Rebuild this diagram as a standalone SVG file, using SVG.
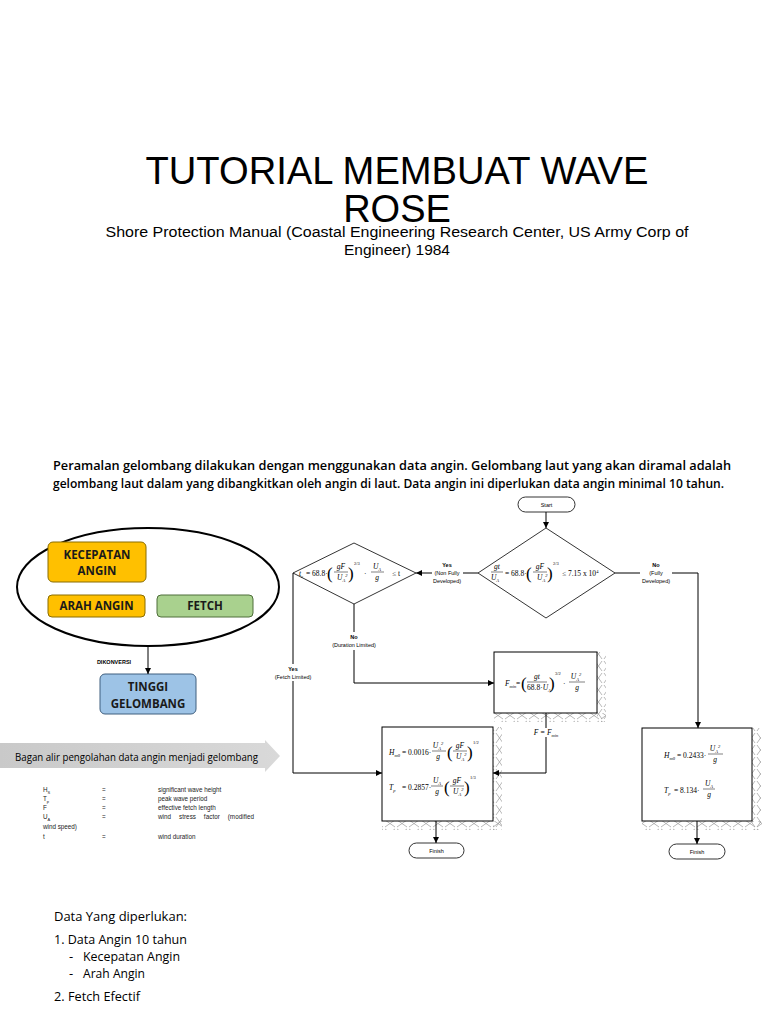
<svg xmlns="http://www.w3.org/2000/svg" width="768" height="1024" viewBox="0 0 768 1024">
<style>
.ln{stroke:#000;stroke-width:1;fill:none}
.m{font-family:"Liberation Serif","Times New Roman",serif;font-size:7.5px;fill:#000}
.mi{font-family:"Liberation Serif","Times New Roman",serif;font-size:7.5px;font-style:italic;fill:#000}
.sm{font-size:4.5px}
.par{font-family:"Liberation Serif","Times New Roman",serif;font-size:17px;fill:#000}
.lab{font-family:"Liberation Sans",Arial,sans-serif;font-size:5.5px;text-anchor:middle;fill:#000}
.labb{font-family:"Liberation Sans",Arial,sans-serif;font-size:5.5px;font-weight:bold;text-anchor:middle;fill:#000}
.cal{font-family:"Open Sans","Noto Sans",sans-serif;fill:#000}
.box{font-family:"Open Sans","Noto Sans",sans-serif;font-weight:bold;font-size:11.5px;text-anchor:middle;fill:#1a1a1a}
.leg{font-family:"Liberation Sans",Arial,sans-serif;font-size:6.3px;fill:#222}
</style>
<defs>
<marker id="arr" viewBox="0 0 10 10" refX="10" refY="5" markerWidth="7" markerHeight="6" markerUnits="userSpaceOnUse" orient="auto">
<path d="M0,0 L10,5 L0,10 z" fill="#000"/>
</marker>
<pattern id="hb" x="0" y="0" width="12" height="9" patternUnits="userSpaceOnUse">
<path d="M1,1 L11,8 M11,1 L1,8" stroke="#999" stroke-width="0.7" fill="none"/>
</pattern>
<pattern id="hr" x="0" y="0" width="9" height="12" patternUnits="userSpaceOnUse">
<path d="M1,1 L8,11 M8,1 L1,11" stroke="#999" stroke-width="0.7" fill="none"/>
</pattern>
<linearGradient id="bg" x1="0" y1="0" x2="1" y2="0">
<stop offset="0" stop-color="#c9c9c9"/>
<stop offset="1" stop-color="#d9d9d9"/>
</linearGradient>
</defs>
<rect width="768" height="1024" fill="#fff"/>

<!-- Title -->
<g id="title">
<text x="397" y="184" font-family="Liberation Sans,Arial,sans-serif" font-size="38" text-anchor="middle" textLength="503" lengthAdjust="spacingAndGlyphs">TUTORIAL MEMBUAT WAVE</text>
<text x="397" y="222" font-family="Liberation Sans,Arial,sans-serif" font-size="38" text-anchor="middle">ROSE</text>
<text x="397" y="237" font-family="Liberation Sans,Arial,sans-serif" font-size="15.5" text-anchor="middle" textLength="583" lengthAdjust="spacingAndGlyphs">Shore Protection Manual (Coastal Engineering Research Center, US Army Corp of</text>
<text x="397" y="255" font-family="Liberation Sans,Arial,sans-serif" font-size="15.5" text-anchor="middle">Engineer) 1984</text>
</g>

<g id="intro">
<text x="53" y="470" class="cal" font-size="12.5" font-weight="600" textLength="678" lengthAdjust="spacingAndGlyphs">Peramalan gelombang dilakukan dengan menggunakan data angin. Gelombang laut yang akan diramal adalah</text>
<text x="53" y="488" class="cal" font-size="12.5" font-weight="600" textLength="671" lengthAdjust="spacingAndGlyphs">gelombang laut dalam yang dibangkitkan oleh angin di laut. Data angin ini diperlukan data angin minimal 10 tahun.</text>
</g>

<!-- Left concept diagram -->
<g id="ellipse-group">
<ellipse cx="148" cy="587" rx="131" ry="59" fill="#fff" stroke="#000" stroke-width="2"/>
</g>
<g id="kecepatan">
<rect x="48" y="542" width="98" height="40" rx="5" fill="#FFC000" stroke="#8a6d00" stroke-width="1"/>
<text x="97" y="559" class="box">KECEPATAN</text>
<text x="97" y="575" class="box">ANGIN</text>
</g>
<g id="arah">
<rect x="48" y="595" width="97" height="22" rx="4" fill="#FFC000" stroke="#8a6d00" stroke-width="1"/>
<text x="96.5" y="610" class="box">ARAH ANGIN</text>
</g>
<g id="fetch">
<rect x="157" y="595" width="96" height="22" rx="4" fill="#A9D18E" stroke="#4e6e3a" stroke-width="1"/>
<text x="205" y="610" class="box">FETCH</text>
</g>
<g id="tinggi">
<rect x="100" y="674" width="96" height="40" rx="5" fill="#9DC3E6" stroke="#3f5f7f" stroke-width="1"/>
<text x="148" y="691" class="box" font-size="12.5">TINGGI</text>
<text x="148" y="708" class="box" font-size="12.5">GELOMBANG</text>
</g>
<g id="left-connector">
<path d="M148,646 V674" class="ln" marker-end="url(#arr)"/>
<text x="114" y="664" class="labb" font-size="6">DIKONVERSI</text>
</g>

<!-- Banner -->
<g id="banner">
<path d="M0,743 H265 V740 L280,756 L265,772 V768 H0 z" fill="url(#bg)"/>
<text x="15" y="761" class="cal" font-size="10.5" textLength="243" lengthAdjust="spacingAndGlyphs">Bagan alir pengolahan data angin menjadi gelombang</text>
</g>

<!-- Legend -->
<g id="legend">
<text x="43" y="792" class="leg">H<tspan font-size="4" dy="1.5">S</tspan></text>
<text x="102" y="792" class="leg">=</text>
<text x="158" y="792" class="leg">significant wave height</text>
<text x="43" y="801" class="leg">T<tspan font-size="4" dy="1.5">p</tspan></text>
<text x="102" y="801" class="leg">=</text>
<text x="158" y="801" class="leg">peak wave period</text>
<text x="43" y="810" class="leg">F</text>
<text x="102" y="810" class="leg">=</text>
<text x="158" y="810" class="leg">effective fetch length</text>
<text x="43" y="819" class="leg">U<tspan font-size="4" dy="1.5">A</tspan></text>
<text x="102" y="819" class="leg">=</text>
<text x="158" y="819" class="leg" textLength="96" word-spacing="6">wind stress factor (modified</text>
<text x="43" y="829" class="leg">wind speed)</text>
<text x="43" y="839" class="leg">t</text>
<text x="102" y="839" class="leg">=</text>
<text x="158" y="839" class="leg">wind duration</text>
</g>

<!-- Flowchart nodes -->
<g id="start">
<rect x="518" y="497" width="57" height="15" rx="7.5" fill="#fff" stroke="#000" stroke-width="0.8"/>
<text x="546.5" y="506.5" class="lab">Start</text>
</g>

<g id="diamond-right">
<path d="M546,528 L615,573 L546,618 L478,573 z" fill="#fff" stroke="#000" stroke-width="0.8"/>
<text x="497" y="569" class="mi" text-anchor="middle">gt</text>
<line x1="491" y1="572" x2="503" y2="572" stroke="#000" stroke-width="0.5"/>
<text x="495" y="580" class="mi" text-anchor="middle">U<tspan class="sm" dy="1.5">A</tspan></text>
<text x="505" y="576" class="m" font-size="7">= 68.8·</text>
<text x="526" y="579" class="par">(</text>
<text x="540" y="569" class="mi" text-anchor="middle">gF</text>
<line x1="533" y1="572" x2="547" y2="572" stroke="#000" stroke-width="0.5"/>
<text x="537" y="580" class="mi">U<tspan class="sm" dy="1.5">A</tspan><tspan class="sm" dy="-5">2</tspan></text>
<text x="547" y="579" class="par">)</text>
<text x="553" y="565" class="m sm">2/3</text>
<text x="562" y="576" class="m">≤ 7.15 x 10<tspan class="sm" dy="-3">4</tspan></text>
</g>

<g id="diamond-left">
<path d="M354,543 L416,573 L354,604 L293,573 z" fill="#fff" stroke="#000" stroke-width="0.8"/>
<text x="299" y="576" class="mi">t<tspan class="sm" dy="1.5">c</tspan></text>
<text x="306" y="576" class="m" font-size="7">= 68.8·</text>
<text x="327" y="579" class="par">(</text>
<text x="341" y="569" class="mi" text-anchor="middle">gF</text>
<line x1="334" y1="572" x2="348" y2="572" stroke="#000" stroke-width="0.5"/>
<text x="337" y="580" class="mi">U<tspan class="sm" dy="1.5">A</tspan><tspan class="sm" dy="-5">2</tspan></text>
<text x="348" y="579" class="par">)</text>
<text x="354" y="565" class="m sm">2/3</text>
<text x="364" y="576" class="m">·</text>
<text x="377" y="569" class="mi" text-anchor="middle">U<tspan class="sm" dy="1.5">A</tspan></text>
<line x1="371" y1="572" x2="384" y2="572" stroke="#000" stroke-width="0.5"/>
<text x="377" y="580" class="mi" text-anchor="middle">g</text>
<text x="392" y="576" class="m">≤ t</text>
</g>

<g id="box-fmin">
<rect x="494" y="713" width="112" height="9" fill="url(#hb)"/>
<rect x="597" y="652" width="9" height="70" fill="url(#hr)"/>
<rect x="494" y="652" width="103" height="61" fill="#fff" stroke="#000" stroke-width="1"/>
<text x="505" y="686" class="mi">F<tspan class="sm" dy="1.5">min</tspan></text>
<text x="516" y="686" class="m">=</text>
<text x="521" y="689" class="par">(</text>
<text x="537" y="679" class="mi" text-anchor="middle">gt</text>
<line x1="527" y1="682" x2="547" y2="682" stroke="#000" stroke-width="0.5"/>
<text x="527" y="690" class="m" font-size="6.5">68.8·<tspan font-style="italic">U</tspan><tspan class="sm" dy="1.5" font-style="italic">A</tspan></text>
<text x="549" y="689" class="par">)</text>
<text x="555" y="675" class="m sm">3/2</text>
<text x="563" y="686" class="m">·</text>
<text x="576" y="679" class="mi" text-anchor="middle">U<tspan class="sm" dy="1.5">A</tspan><tspan class="sm" dy="-5">2</tspan></text>
<line x1="569" y1="682" x2="585" y2="682" stroke="#000" stroke-width="0.5"/>
<text x="577" y="690" class="mi" text-anchor="middle">g</text>
</g>

<g id="box-h-limited">
<rect x="382" y="821" width="120" height="9" fill="url(#hb)"/>
<rect x="493" y="727" width="9" height="103" fill="url(#hr)"/>
<rect x="382" y="727" width="111" height="94" fill="#fff" stroke="#000" stroke-width="1"/>
<text x="389" y="755" class="mi">H<tspan class="sm" dy="1.5">m0</tspan></text>
<text x="402" y="755" class="m">= 0.0016·</text>
<text x="438" y="748" class="mi" text-anchor="middle">U<tspan class="sm" dy="1.5">A</tspan><tspan class="sm" dy="-5">2</tspan></text>
<line x1="432" y1="751" x2="446" y2="751" stroke="#000" stroke-width="0.5"/>
<text x="438" y="759" class="mi" text-anchor="middle">g</text>
<text x="447" y="758" class="par">(</text>
<text x="460" y="748" class="mi" text-anchor="middle">gF</text>
<line x1="453" y1="751" x2="467" y2="751" stroke="#000" stroke-width="0.5"/>
<text x="456" y="759" class="mi">U<tspan class="sm" dy="1.5">A</tspan><tspan class="sm" dy="-5">2</tspan></text>
<text x="467" y="758" class="par">)</text>
<text x="473" y="744" class="m sm">1/2</text>
<text x="389" y="790" class="mi">T<tspan class="sm" dy="1.5">p</tspan></text>
<text x="402" y="790" class="m">= 0.2857·</text>
<text x="437" y="783" class="mi" text-anchor="middle">U<tspan class="sm" dy="1.5">A</tspan></text>
<line x1="431" y1="786" x2="443" y2="786" stroke="#000" stroke-width="0.5"/>
<text x="437" y="794" class="mi" text-anchor="middle">g</text>
<text x="444" y="793" class="par">(</text>
<text x="457" y="783" class="mi" text-anchor="middle">gF</text>
<line x1="450" y1="786" x2="464" y2="786" stroke="#000" stroke-width="0.5"/>
<text x="453" y="794" class="mi">U<tspan class="sm" dy="1.5">A</tspan><tspan class="sm" dy="-5">2</tspan></text>
<text x="464" y="793" class="par">)</text>
<text x="470" y="779" class="m sm">1/3</text>
</g>

<g id="box-fully">
<rect x="642" y="821" width="120" height="9" fill="url(#hb)"/>
<rect x="752" y="728" width="9" height="102" fill="url(#hr)"/>
<rect x="642" y="728" width="110" height="93" fill="#fff" stroke="#000" stroke-width="1"/>
<text x="664" y="758" class="mi">H<tspan class="sm" dy="1.5">m0</tspan></text>
<text x="677" y="758" class="m">= 0.2433·</text>
<text x="715" y="751" class="mi" text-anchor="middle">U<tspan class="sm" dy="1.5">A</tspan><tspan class="sm" dy="-5">2</tspan></text>
<line x1="708" y1="754" x2="723" y2="754" stroke="#000" stroke-width="0.5"/>
<text x="715" y="762" class="mi" text-anchor="middle">g</text>
<text x="664" y="793" class="mi">T<tspan class="sm" dy="1.5">p</tspan></text>
<text x="674" y="793" class="m">= 8.134·</text>
<text x="709" y="786" class="mi" text-anchor="middle">U<tspan class="sm" dy="1.5">A</tspan></text>
<line x1="703" y1="789" x2="715" y2="789" stroke="#000" stroke-width="0.5"/>
<text x="709" y="797" class="mi" text-anchor="middle">g</text>
</g>

<g id="finish-1">
<rect x="409" y="843" width="55" height="15" rx="7.5" fill="#fff" stroke="#000" stroke-width="0.8"/>
<text x="436.5" y="852.5" class="lab">Finish</text>
</g>
<g id="finish-2">
<rect x="669" y="844" width="56" height="15" rx="7.5" fill="#fff" stroke="#000" stroke-width="0.8"/>
<text x="697" y="853.5" class="lab">Finish</text>
</g>

<!-- Connectors -->
<g id="connectors">
<path d="M546,512 V528" class="ln" marker-end="url(#arr)"/>
<path d="M478,573 H463" class="ln"/>
<path d="M432,573 H416" class="ln" marker-end="url(#arr)"/>
<path d="M615,573 H640" class="ln"/>
<path d="M672,573 H698 V728" class="ln" marker-end="url(#arr)"/>
<path d="M354,604 V632" class="ln"/>
<path d="M354,650 V683 H494" class="ln" marker-end="url(#arr)"/>
<path d="M293,573 V664" class="ln"/>
<path d="M293,681 V773 H382" class="ln" marker-end="url(#arr)"/>
<path d="M546,713 V728" class="ln"/>
<path d="M546,737 V773 H493" class="ln" marker-end="url(#arr)"/>
<path d="M436,821 V843" class="ln" marker-end="url(#arr)"/>
<path d="M697,821 V844" class="ln" marker-end="url(#arr)"/>
<text x="447" y="567" class="labb">Yes</text>
<text x="447" y="575" class="lab">(Non Fully</text>
<text x="447" y="583" class="lab">Developed)</text>
<text x="656" y="567" class="labb">No</text>
<text x="656" y="575" class="lab">(Fully</text>
<text x="656" y="583" class="lab">Developed)</text>
<text x="354" y="639" class="labb">No</text>
<text x="354" y="647" class="lab">(Duration Limited)</text>
<text x="293" y="671" class="labb">Yes</text>
<text x="293" y="679" class="lab">(Fetch Limited)</text>
<text x="546" y="735" class="mi" text-anchor="middle">F = F<tspan class="sm" dy="1.5">min</tspan></text>
</g>

<!-- Bottom list -->
<g id="list">
<text x="54" y="921" class="cal" font-size="13" textLength="133" lengthAdjust="spacingAndGlyphs">Data Yang diperlukan:</text>
<text x="54" y="944" class="cal" font-size="13" textLength="133" lengthAdjust="spacingAndGlyphs">1. Data Angin 10 tahun</text>
<text x="69" y="961" class="cal" font-size="13">-</text>
<text x="83" y="961" class="cal" font-size="13" textLength="97" lengthAdjust="spacingAndGlyphs">Kecepatan Angin</text>
<text x="69" y="978" class="cal" font-size="13">-</text>
<text x="83" y="978" class="cal" font-size="13" textLength="62" lengthAdjust="spacingAndGlyphs">Arah Angin</text>
<text x="54" y="1001" class="cal" font-size="13" textLength="86" lengthAdjust="spacingAndGlyphs">2. Fetch Efectif</text>
</g>
</svg>
